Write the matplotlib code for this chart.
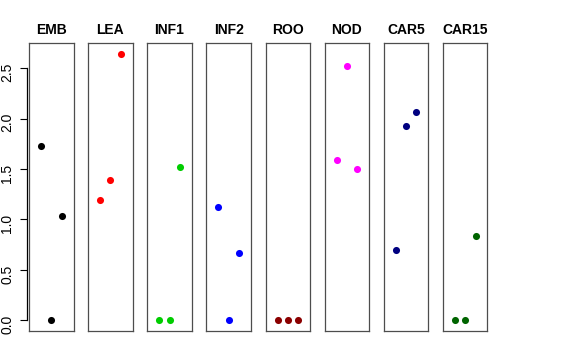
import matplotlib
matplotlib.use("Agg")
import matplotlib.pyplot as plt

plt.rcParams['font.family'] = ['Liberation Sans', 'DejaVu Sans']

categories = ["EMB", "LEA", "INF1", "INF2", "ROO", "NOD", "CAR5", "CAR15"]
EMB = [1.73, 0.00, 1.03]
LEA = [1.19, 1.39, 2.64]
INF1 = [0.00, 0.00, 1.52]
INF2 = [1.12, 0.00, 0.67]
ROO = [0.00, 0.00, 0.00]
NOD = [1.59, 2.52, 1.50]
CAR5 = [0.70, 1.93, 2.06]
CAR15 = [0.00, 0.00, 0.84]
series = [EMB, LEA, INF1, INF2, ROO, NOD, CAR5, CAR15]
colors = ["#000000", "#FF0000", "#00CD00", "#0000FF", "#8B0000", "#FF00FF", "#000080", "#006400"]
yticks = [0.0, 0.5, 1.0, 1.5, 2.0, 2.5]
ytick_labels = ["0.0", "0.5", "1.0", "1.5", "2.0", "2.5"]
xpos = [1, 2, 3]

W, H = 576, 360
fig = plt.figure(figsize=(W / 100, H / 100), dpi=100)

ymin = min(min(s) for s in series)
ymax = max(max(s) for s in series)
yr = ymax - ymin
ylim = (ymin - 0.04 * yr, ymax + 0.04 * yr)
xlim = (0 - 0.04 * 4, 4 + 0.04 * 4)

left0, step, pw = 29.0, 59.14, 44.5
top, bottom = 43.3, 331.0

for i, (name, vals, col) in enumerate(zip(categories, series, colors)):
    l = left0 + i * step
    ax = fig.add_axes([l / W, (H - bottom) / H, pw / W, (bottom - top) / H])
    ax.scatter(xpos, vals, s=26, color=col, zorder=3, linewidths=0)
    ax.set_xlim(*xlim)
    ax.set_ylim(*ylim)
    ax.set_xticks([])
    for sp in ax.spines.values():
        sp.set_color("#4d4d4d")
        sp.set_linewidth(0.9)
    ax.set_title(name, fontsize=10, fontweight="bold", pad=7)
    if i == 0:
        ax.set_yticks(yticks)
        ax.set_yticklabels(ytick_labels, fontsize=6.6)
        ax.tick_params(axis="y", length=5, width=0.8, pad=4, direction="out",
                       color="black", labelrotation=90)
        for t in ax.get_yticklabels():
            t.set_va("center")
        ax.spines['left'].set_bounds(yticks[0], yticks[-1])
        ax.spines['left'].set_color("black")
        ax.spines['left'].set_position(('outward', 1.5))
        ax.plot([0, 0], [0, 1], transform=ax.transAxes, color="#4d4d4d", lw=0.9, clip_on=False)
    else:
        ax.set_yticks([])

fig.savefig("out.png", dpi=100)
